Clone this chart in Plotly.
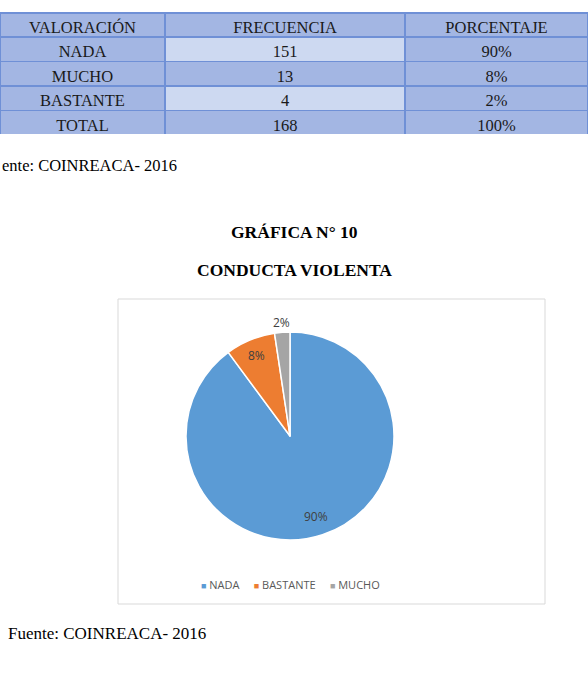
import math
import plotly.graph_objects as go

# ---- data ----
table_header = ["VALORACIÓN", "FRECUENCIA", "PORCENTAJE"]
valoracion = ["NADA", "MUCHO", "BASTANTE", "TOTAL"]
frecuencia = ["151", "13", "4", "168"]
porcentaje = ["90%", "8%", "2%", "100%"]

pie_labels = ["NADA", "BASTANTE", "MUCHO"]
pie_values = [151, 13, 4]
pie_text = ["90%", "8%", "2%"]
pie_colors = ["#5B9BD5", "#ED7D31", "#A5A5A5"]

W, H = 588, 673

def py(px):
    return 1 - px / H

def pxx(px):
    return px / W

MED = "#A3B6E3"
LIGHT = "#CDD9F1"
LINE = "#6F90D6"
serif = "Liberation Serif"

fig = go.Figure()

# ---- table ----
fig.add_trace(go.Table(
    domain=dict(x=[0, 1.0], y=[py(135), py(13)]),
    columnwidth=[165, 240, 183],
    header=dict(
        values=table_header,
        fill_color=MED,
        line_color=LINE,
        line_width=1.5,
        align="center",
        height=24,
        font=dict(family=serif, size=16.5, color="#1a1a1a"),
    ),
    cells=dict(
        values=[valoracion, frecuencia, porcentaje],
        fill_color=[[MED] * 4, [LIGHT, MED, LIGHT, MED], [MED] * 4],
        line_color=LINE,
        line_width=1.5,
        align="center",
        height=24.5,
        font=dict(family=serif, size=16.5, color="#1a1a1a"),
    ),
))

# ---- pie ----
cx, cy, r = 290, 436, 104
fig.add_trace(go.Pie(
    labels=pie_labels,
    values=pie_values,
    marker=dict(colors=pie_colors, line=dict(color="white", width=1.5)),
    sort=False,
    direction="clockwise",
    rotation=0,
    textinfo="none",
    hoverinfo="label+percent",
    domain=dict(x=[pxx(cx - r), pxx(cx + r)], y=[py(cy + r), py(cy - r)]),
    showlegend=False,
))

# data labels positioned from the values (slice mid-angles)
total = sum(pie_values)
cum = 0
label_radius = [0.81, 0.84, 1.09]
annotations = []
for v, t, lr in zip(pie_values, pie_text, label_radius):
    mid = (cum + v / 2) / total * 2 * math.pi
    cum += v
    lx = cx + lr * r * math.sin(mid)
    ly = cy - lr * r * math.cos(mid)
    annotations.append(dict(
        x=pxx(lx), y=py(ly), xref="paper", yref="paper",
        xanchor="center", yanchor="middle",
        text=t, showarrow=False,
        font=dict(family="Open Sans", size=12, color="#404040"),
    ))

# legend (small squares, Excel style), built from labels/colors
legend_text = "&nbsp;&nbsp;&nbsp;&nbsp;&nbsp;".join(
    f"<span style='color:{c};font-size:9px'>■</span> {lab}"
    for lab, c in zip(pie_labels, pie_colors)
)
annotations.append(dict(
    x=pxx(290), y=py(584), xref="paper", yref="paper",
    xanchor="center", yanchor="middle",
    text=legend_text, showarrow=False,
    font=dict(family="Open Sans", size=11, color="#595959"),
))

# ---- texts ----
annotations += [
    dict(x=0, y=py(165), xref="paper", yref="paper", xanchor="left", yanchor="middle",
         text="ente: COINREACA- 2016", showarrow=False,
         font=dict(family=serif, size=16.5, color="black")),
    dict(x=pxx(294), y=py(232), xref="paper", yref="paper",
         xanchor="center", yanchor="middle",
         text="<b>GRÁFICA N° 10</b>", showarrow=False,
         font=dict(family=serif, size=17.5, color="black")),
    dict(x=pxx(294), y=py(270), xref="paper", yref="paper",
         xanchor="center", yanchor="middle",
         text="<b>CONDUCTA VIOLENTA</b>", showarrow=False,
         font=dict(family=serif, size=17.5, color="black")),
    dict(x=pxx(6), y=py(633), xref="paper", yref="paper", xanchor="left", yanchor="middle",
         text="Fuente: COINREACA- 2016", showarrow=False,
         font=dict(family=serif, size=17, color="black")),
]

shapes = [
    dict(type="rect", xref="paper", yref="paper",
         x0=pxx(118), x1=pxx(545), y0=py(604), y1=py(299),
         line=dict(color="#D9D9D9", width=1), fillcolor="rgba(0,0,0,0)", layer="below"),
]

fig.update_layout(
    width=W, height=H,
    margin=dict(l=0, r=0, t=0, b=0),
    paper_bgcolor="white",
    plot_bgcolor="white",
    annotations=annotations,
    shapes=shapes,
    showlegend=False,
)

fig.write_html("out.html")
